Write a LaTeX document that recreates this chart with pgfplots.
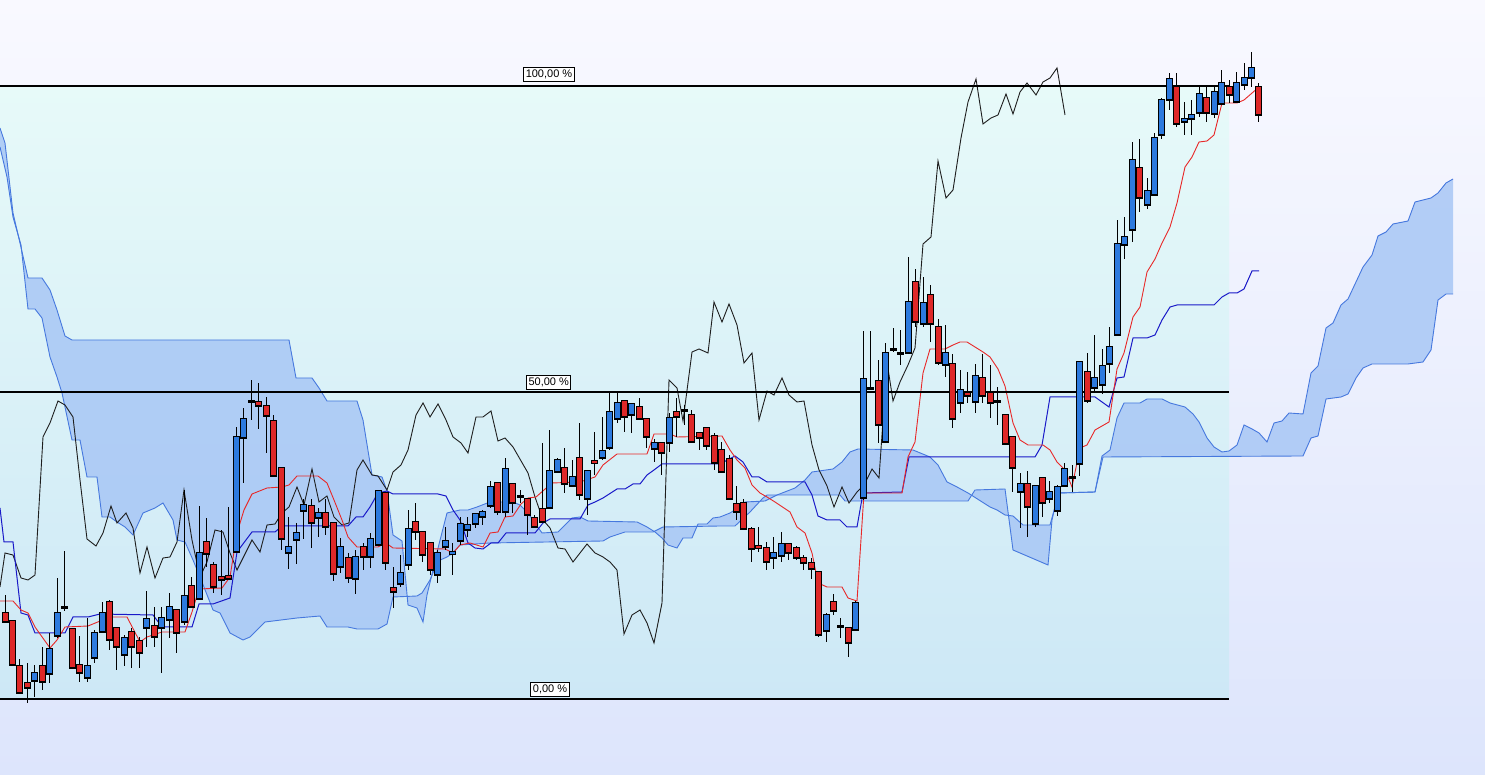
\documentclass[border=0pt]{standalone}
\usepackage{pgfplots}
\usepackage{pgfplotstable}
\usepgfplotslibrary{fillbetween}
\usepackage{fontspec}
\setmainfont{Liberation Sans}
\pgfplotsset{compat=1.18}
\definecolor{bgtop}{RGB}{249,249,255}
\definecolor{bgbot}{RGB}{221,229,252}
\definecolor{cytop}{RGB}{231,250,249}
\definecolor{cybot}{RGB}{205,232,246}
\definecolor{cloudfill}{RGB}{168,199,245}
\definecolor{cloudline}{RGB}{70,120,222}
\definecolor{upc}{RGB}{45,122,222}
\definecolor{dnc}{RGB}{222,40,40}
\definecolor{tenkan}{RGB}{232,40,40}
\definecolor{kijun}{RGB}{25,25,200}
\definecolor{chikou}{RGB}{30,30,30}

% candles: index, body top, body bottom, high, low (pixel rows)
\pgfplotstableread{
i top bot hi lo
4 673 681 665 697
6 649 674 633 683
7 613 636 578 638
8 607 608 551 611
11 666 678 618 682
12 633 658 630 663
13 613 632 602 633
16 638 655 635 666
19 619 628 591 647
21 618 628 607 673
22 607 620 593 638
24 596 622 490 625
26 553 599 506 600
31 437 552 427 553
32 419 438 408 483
33 401 402 380 420
38 547 553 517 569
39 533 540 523 564
40 505 511 499 539
42 513 518 508 537
45 547 567 538 573
47 557 579 550 594
49 539 557 533 568
50 491 545 490 546
53 573 584 555 587
54 529 565 510 570
58 553 575 550 583
59 541 547 527 550
60 552 554 543 575
61 524 541 517 545
62 525 530 517 537
63 514 524 513 528
64 512 517 510 525
65 487 506 481 508
67 469 512 458 517
73 471 508 430 509
74 460 472 458 473
76 477 486 460 487
78 471 499 470 515
80 451 458 417 460
81 412 448 393 450
82 403 419 393 423
84 404 415 403 433
87 443 449 439 462
89 418 443 413 452
103 553 558 537 569
104 544 556 532 562
110 615 631 613 642
114 603 630 601 631
115 379 498 331 500
116 388 389 331 389
118 353 442 343 443
119 349 350 328 352
120 353 354 330 365
121 302 353 257 353
123 303 324 277 327
126 353 365 325 377
128 390 403 370 413
130 376 402 364 413
133 401 402 387 425
136 484 492 473 528
138 486 524 486 527
140 492 499 481 503
141 487 511 485 516
142 469 486 463 487
143 477 478 465 492
144 362 464 362 476
146 378 388 335 393
147 366 385 349 394
148 347 364 327 373
149 244 335 220 335
150 237 245 217 259
151 160 230 142 242
153 191 205 178 209
154 138 195 133 195
155 100 135 98 139
156 79 100 73 110
158 119 122 102 135
159 115 119 100 135
160 94 113 85 117
162 92 114 85 118
163 83 104 70 105
165 83 102 72 103
166 78 85 63 90
167 68 78 52 87
}\Up

\pgfplotstableread{
i top bot hi lo
0 613 622 595 623
1 621 665 620 665
2 666 693 659 693
3 683 688 663 703
5 666 682 647 690
9 629 668 629 668
10 665 673 636 682
14 602 640 600 650
15 628 647 628 670
17 632 647 628 668
18 641 653 637 668
20 626 637 607 647
23 610 633 610 653
25 586 607 577 608
27 542 554 518 567
28 565 587 562 593
29 577 580 530 595
30 576 579 507 580
34 402 406 383 429
35 406 416 397 453
36 421 476 415 477
37 468 539 468 550
41 506 523 499 548
43 513 527 499 535
44 523 574 523 581
46 558 578 553 583
48 547 557 543 570
51 493 563 492 570
52 588 592 567 608
55 522 532 503 540
56 532 555 532 562
57 543 570 542 575
66 483 512 482 515
68 484 503 484 513
69 496 497 490 503
70 499 515 498 535
71 518 527 515 528
72 509 522 443 523
75 468 484 448 493
77 458 495 423 500
79 461 463 432 475
83 401 417 401 432
85 407 419 398 420
86 419 437 419 448
88 443 453 442 475
90 412 417 398 437
91 410 411 405 425
92 415 442 410 443
93 433 438 432 450
94 428 446 428 450
95 436 463 433 470
96 450 472 442 473
97 459 499 455 500
98 504 512 486 520
99 503 529 499 529
100 529 549 527 562
101 546 548 527 552
102 548 562 542 570
105 544 553 544 560
106 548 558 546 560
107 558 563 555 570
108 563 569 558 579
109 572 635 572 637
111 602 611 594 615
112 626 627 618 638
113 628 643 628 657
117 381 425 360 443
122 282 322 269 327
124 295 324 285 342
125 327 363 319 365
127 364 419 354 428
129 393 396 372 403
131 378 396 354 403
132 393 403 365 418
134 415 444 415 445
135 437 468 436 492
137 484 507 471 537
139 478 503 478 517
145 372 401 353 403
152 168 198 139 212
157 87 124 73 127
161 98 113 85 122
164 87 95 80 103
168 87 115 83 122
}\Down

\pgfplotstableread{
x y
0 601
13 601
21 610
28 613
35 627
50 648
57 640
65 627
88 626
110 617
127 617
140 642
147 637
162 632
185 632
192 612
199 589
222 588
230 577
237 533
244 510
252 494
267 488
282 487
289 485
297 476
318 476
327 483
334 500
342 520
348 537
357 547
378 547
386 543
393 548
445 549
453 553
460 545
470 543
483 547
490 533
498 532
505 517
513 516
521 504
528 498
536 497
552 483
580 482
595 477
603 465
617 454
647 454
654 434
670 434
677 437
722 436
730 450
737 460
745 468
752 485
760 493
767 497
775 502
790 512
797 527
805 533
812 553
818 583
827 587
842 587
848 598
857 601
864 493
902 493
908 457
915 442
923 373
930 349
945 349
953 345
960 342
967 342
975 347
983 352
990 357
998 369
1005 386
1013 423
1020 440
1028 445
1043 445
1050 450
1057 462
1065 470
1072 487
1080 448
1087 445
1095 430
1109 422
1117 369
1124 353
1133 317
1140 307
1147 272
1155 259
1162 243
1170 227
1177 203
1185 167
1192 157
1199 142
1207 141
1214 135
1222 103
1237 103
1244 100
1259 87
}\Tenkan

\pgfplotstableread{
x y
0 508
4 542
13 542
21 613
28 615
35 633
65 633
73 617
88 617
100 614
153 615
162 627
192 627
199 604
213 604
230 598
237 552
252 532
275 532
282 526
348 526
356 517
363 517
370 507
378 493
387 491
393 494
438 494
446 496
453 510
460 520
468 543
475 548
483 549
491 543
498 543
506 533
535 533
543 523
550 519
580 519
588 505
595 502
603 498
617 489
625 489
633 484
640 484
647 475
654 470
662 464
720 464
735 456
743 462
752 477
759 477
767 482
805 482
812 495
818 516
827 520
840 520
847 527
857 527
863 493
902 492
909 457
1035 457
1042 445
1050 397
1095 397
1109 407
1117 378
1124 377
1133 338
1147 338
1155 335
1162 320
1170 307
1177 305
1214 305
1222 297
1229 293
1237 293
1244 289
1252 271
1259 271
}\Kijun

\pgfplotstableread{
x y
0 587
5 553
13 555
21 578
28 580
35 575
43 437
50 423
58 401
65 405
73 417
80 480
87 539
96 546
103 533
111 506
117 523
126 513
133 528
140 573
147 547
155 578
163 558
170 557
177 542
184 490
192 540
200 577
207 562
215 530
223 532
230 553
237 570
252 540
260 552
267 525
275 524
282 513
289 507
297 487
304 505
312 469
319 502
327 496
334 517
342 525
349 523
357 470
363 460
372 475
378 476
387 490
393 472
401 465
408 450
416 415
423 403
430 417
438 404
446 420
453 437
461 443
468 453
476 417
483 417
491 411
498 441
505 438
513 447
528 473
535 497
543 520
550 528
558 548
565 549
573 562
580 553
587 544
595 553
603 557
610 562
617 570
624 634
632 615
640 610
647 623
654 643
662 603
669 380
677 388
683 421
692 352
699 349
708 353
714 302
722 322
729 304
737 325
744 363
752 353
759 420
767 391
774 395
782 378
789 395
797 402
804 401
812 445
819 470
827 486
834 507
842 487
849 503
857 492
864 485
872 469
879 478
887 362
893 401
900 382
908 365
915 348
923 244
931 237
938 161
946 198
953 190
961 138
968 102
976 79
983 124
991 118
998 115
1006 94
1013 114
1020 92
1027 83
1036 95
1043 82
1050 78
1057 68
1065 115
}\Chikou

\pgfplotstableread{
x y
0 128
5 143
13 213
20 243
28 278
42 278
50 290
57 310
65 336
72 340
289 340
296 378
312 378
319 388
327 401
357 401
363 420
372 475
382 477
387 491
393 535
402 541
408 605
417 608
423 622
427 595
433 570
437 552
447 513
460 510
468 510
477 507
490 502
513 502
520 505
528 513
535 523
542 533
558 532
565 525
572 518
580 517
588 521
637 522
647 527
655 532
662 538
668 545
677 548
683 538
692 538
698 524
707 524
713 518
720 517
730 513
738 508
745 502
765 501
777 495
795 488
805 480
812 472
833 469
842 462
850 452
858 449
913 450
930 457
938 465
947 482
957 487
968 493
990 507
997 510
1005 515
1013 516
1023 525
1050 525
1055 507
1060 493
1095 492
1102 456
1110 450
1117 418
1124 403
1140 403
1147 399
1162 399
1170 403
1185 407
1193 414
1199 422
1207 438
1214 447
1222 452
1229 451
1237 445
1244 425
1252 429
1259 433
1267 442
1274 423
1282 421
1289 413
1303 414
1311 373
1318 366
1326 328
1333 323
1341 305
1348 299
1363 267
1372 255
1378 236
1386 232
1393 224
1408 221
1415 202
1431 198
1438 193
1446 183
1453 179
}\SpanA

\pgfplotstableread{
x y
0 147
7 177
13 217
21 245
28 309
35 309
42 318
50 357
57 377
62 393
72 440
80 440
87 477
97 477
102 517
110 517
117 522
125 527
133 535
143 513
155 508
163 503
173 520
177 540
185 542
193 560
200 577
213 610
220 613
230 633
243 640
250 637
265 622
297 618
320 616
327 627
348 627
357 629
378 629
387 624
393 597
417 596
422 593
430 580
438 561
447 557
453 553
460 545
490 543
603 541
610 537
625 532
653 532
663 527
720 526
735 526
750 512
763 498
767 495
840 495
845 501
968 501
975 490
1005 489
1013 550
1048 565
1052 520
1058 493
1095 492
1103 457
1303 456
1311 438
1318 436
1326 399
1341 397
1348 394
1356 378
1363 368
1372 364
1408 364
1423 362
1431 350
1438 300
1446 294
1453 294
}\SpanB

\begin{document}
\begin{tikzpicture}
\begin{axis}[
  set layers,
  hide axis, scale only axis,
  width=1485pt, height=775pt,
  xmin=0, xmax=1485, ymin=0, ymax=775,
  y dir=reverse, clip=true,
]
% backgrounds
\begin{pgfonlayer}{axis background}
\fill[top color=bgtop, bottom color=bgbot] (axis cs:0,0) rectangle (axis cs:1485,775);
\fill[top color=cytop, bottom color=cybot] (axis cs:0,86) rectangle (axis cs:1229,699);
\end{pgfonlayer}

% cloud
\addplot[draw=none, name path=A, forget plot] table {\SpanA};
\addplot[draw=none, name path=B, forget plot] table {\SpanB};
\addplot[cloudfill, fill opacity=0.85, draw=none, forget plot] fill between[of=A and B];
\addplot[cloudline, line width=0.9pt, forget plot] table {\SpanA};
\addplot[cloudline, line width=0.9pt, forget plot] table {\SpanB};

% ichimoku lines
\addplot[chikou, line width=0.9pt, forget plot] table {\Chikou};
\addplot[kijun, line width=1pt, forget plot] table {\Kijun};
\addplot[tenkan, line width=0.9pt, forget plot] table {\Tenkan};

% percentage lines
\addplot[black, line width=2pt, forget plot] coordinates {(0,86) (1229,86)};
\addplot[black, line width=2pt, forget plot] coordinates {(0,392) (1229,392)};
\addplot[black, line width=2pt, forget plot] coordinates {(0,699) (1229,699)};

% candles: wicks
\addplot[draw=none, mark=none, forget plot,
  error bars/.cd, y dir=both, y explicit, error mark=none,
  error bar style={draw=black, line width=1pt}]
  table[x expr=5+7.464*\thisrow{i}, y expr=(\thisrow{hi}+\thisrow{lo})/2,
        y error expr=(\thisrow{lo}-\thisrow{hi})/2] {\Up};
\addplot[draw=none, mark=none, forget plot,
  error bars/.cd, y dir=both, y explicit, error mark=none,
  error bar style={draw=black, line width=1pt}]
  table[x expr=5+7.464*\thisrow{i}, y expr=(\thisrow{hi}+\thisrow{lo})/2,
        y error expr=(\thisrow{lo}-\thisrow{hi})/2] {\Down};
% bodies: outline
\addplot[draw=none, mark=none, forget plot,
  error bars/.cd, y dir=both, y explicit, error mark=none,
  error bar style={draw=black, line width=7pt}]
  table[x expr=5+7.464*\thisrow{i}, y expr=(\thisrow{top}+\thisrow{bot})/2,
        y error expr=(\thisrow{bot}-\thisrow{top})/2+0.6] {\Up};
\addplot[draw=none, mark=none, forget plot,
  error bars/.cd, y dir=both, y explicit, error mark=none,
  error bar style={draw=black, line width=7pt}]
  table[x expr=5+7.464*\thisrow{i}, y expr=(\thisrow{top}+\thisrow{bot})/2,
        y error expr=(\thisrow{bot}-\thisrow{top})/2+0.6] {\Down};
% bodies: fill
\addplot[draw=none, mark=none, forget plot,
  error bars/.cd, y dir=both, y explicit, error mark=none,
  error bar style={draw=upc, line width=5pt}]
  table[x expr=5+7.464*\thisrow{i}, y expr=(\thisrow{top}+\thisrow{bot})/2,
        y error expr={max(0,(\thisrow{bot}-\thisrow{top})/2-0.5)}] {\Up};
\addplot[draw=none, mark=none, forget plot,
  error bars/.cd, y dir=both, y explicit, error mark=none,
  error bar style={draw=dnc, line width=5pt}]
  table[x expr=5+7.464*\thisrow{i}, y expr=(\thisrow{top}+\thisrow{bot})/2,
        y error expr={max(0,(\thisrow{bot}-\thisrow{top})/2-0.5)}] {\Down};

% labels
\node[draw=black, fill=white, line width=0.8pt, inner xsep=2pt, inner ysep=0pt,
  minimum height=14pt, font=\fontsize{11}{12}\selectfont] at (axis cs:549,74.5) {100,00 \%};
\node[draw=black, fill=white, line width=0.8pt, inner xsep=2pt, inner ysep=0pt,
  minimum height=14pt, font=\fontsize{11}{12}\selectfont] at (axis cs:548.7,382) {50,00 \%};
\node[draw=black, fill=white, line width=0.8pt, inner xsep=2pt, inner ysep=0pt,
  minimum height=14pt, font=\fontsize{11}{12}\selectfont] at (axis cs:550,689.5) {0,00 \%};
\end{axis}
\end{tikzpicture}
\end{document}
